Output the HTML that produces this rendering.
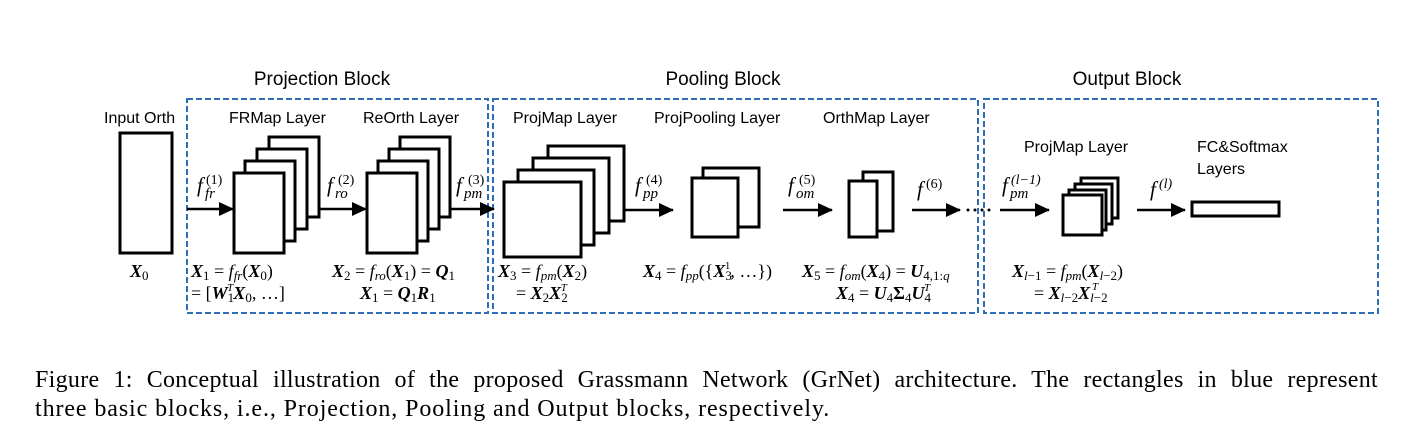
<!DOCTYPE html>
<html><head><meta charset="utf-8"><style>
body{margin:0;background:#fff;width:1413px;height:446px;overflow:hidden}
svg{position:absolute;left:0;top:0}
.s{font-family:"Liberation Sans",sans-serif;font-size:16px;fill:#000}
.h{font-family:"Liberation Sans",sans-serif;font-size:19px;fill:#000}
.m{font-family:"Liberation Serif",serif;font-size:18px;fill:#000}
.b{font-weight:bold;font-style:italic}
.i{font-style:italic}
.cap{position:absolute;left:35px;width:1343px;font-family:"Liberation Serif",serif;font-size:24px;line-height:29px;top:366px;white-space:nowrap}
.l1{text-align:justify;text-align-last:justify;white-space:normal;letter-spacing:0.3px}
.l2{letter-spacing:0.9px}
</style></head><body>
<svg width="1413" height="446" viewBox="0 0 1413 446">
<defs><marker id="a" markerWidth="16" markerHeight="14" refX="14" refY="7" orient="auto" markerUnits="userSpaceOnUse"><path d="M0,0 L15,7 L0,14 z" fill="#000"/></marker></defs>
<g fill="none" stroke="#2e6db5" stroke-width="2" stroke-dasharray="6,3">
<rect x="187" y="99" width="301" height="214"/>
<rect x="493" y="99" width="485" height="214"/>
<rect x="984" y="99" width="394" height="214"/>
</g>
<text class="h" x="322" y="85" text-anchor="middle">Projection Block</text>
<text class="h" x="723" y="85" text-anchor="middle">Pooling Block</text>
<text class="h" x="1127" y="85" text-anchor="middle">Output Block</text>
<g class="s">
<text x="104" y="123">Input Orth</text>
<text x="229" y="123">FRMap Layer</text>
<text x="363" y="123">ReOrth Layer</text>
<text x="513" y="123">ProjMap Layer</text>
<text x="654" y="123">ProjPooling Layer</text>
<text x="823" y="123">OrthMap Layer</text>
<text x="1024" y="152">ProjMap Layer</text>
<text x="1197" y="152">FC&amp;Softmax</text>
<text x="1197" y="174">Layers</text>
</g>
<g fill="#fff" stroke="#000" stroke-width="3">
<rect x="120" y="133" width="52" height="120"/>
<rect x="269" y="137" width="50" height="80"/><rect x="257" y="149" width="50" height="80"/><rect x="245" y="161" width="50" height="80"/><rect x="234" y="173" width="50" height="80"/>
<rect x="400" y="137" width="50" height="80"/><rect x="389" y="149" width="50" height="80"/><rect x="378" y="161" width="50" height="80"/><rect x="367" y="173" width="50" height="80"/>
<rect x="548" y="146" width="76" height="75"/><rect x="533" y="158" width="76" height="75"/><rect x="518" y="170" width="76" height="75"/><rect x="504" y="182" width="77" height="75"/>
<rect x="703" y="168" width="56" height="59"/><rect x="692" y="178" width="46" height="59"/>
<rect x="863" y="172" width="30" height="59"/><rect x="849" y="181" width="28" height="56"/>
<rect x="1081" y="178" width="37" height="40"/><rect x="1075" y="184" width="37" height="40"/><rect x="1069" y="190" width="37" height="40"/><rect x="1063" y="195" width="39" height="40"/>
<rect x="1192" y="202" width="87" height="14"/>
</g>
<g stroke="#000" stroke-width="2.5" marker-end="url(#a)">
<line x1="187" y1="209" x2="233" y2="209"/>
<line x1="318" y1="209" x2="366" y2="209"/>
<line x1="449" y1="209" x2="494" y2="209"/>
<line x1="625" y1="210" x2="673" y2="210"/>
<line x1="783" y1="210" x2="832" y2="210"/>
<line x1="912" y1="210" x2="960" y2="210"/>
<line x1="1000" y1="210" x2="1049" y2="210"/>
<line x1="1137" y1="210" x2="1185" y2="210"/>
</g>
<g fill="#000"><circle cx="968" cy="210" r="1.5"/><circle cx="975" cy="210" r="1.5"/><circle cx="982" cy="210" r="1.5"/><circle cx="989" cy="210" r="1.5"/></g>
<g class="m">
<g font-size="21" font-style="italic">
<text x="197" y="192">f</text><text x="205" y="198" font-size="15">fr</text><text x="206" y="184" font-size="14" font-style="normal">(1)</text>
<text x="327" y="192">f</text><text x="335" y="198" font-size="15">ro</text><text x="338" y="184" font-size="14" font-style="normal">(2)</text>
<text x="456" y="192">f</text><text x="464" y="198" font-size="15">pm</text><text x="468" y="184" font-size="14" font-style="normal">(3)</text>
<text x="635" y="192">f</text><text x="643" y="198" font-size="15">pp</text><text x="646" y="184" font-size="14" font-style="normal">(4)</text>
<text x="788" y="192">f</text><text x="796" y="198" font-size="15">om</text><text x="799" y="184" font-size="14" font-style="normal">(5)</text>
<text x="917" y="196">f</text><text x="926" y="188" font-size="14" font-style="normal">(6)</text>
<text x="1002" y="192">f</text><text x="1010" y="198" font-size="15">pm</text><text x="1011" y="184" font-size="14">(l−1)</text>
<text x="1150" y="196">f</text><text x="1159" y="188" font-size="14">(l)</text>
</g>

<text x="130" y="277"><tspan class="b">X</tspan><tspan font-size="13" dy="3">0</tspan></text>
<text x="191" y="277"><tspan class="b">X</tspan><tspan font-size="13" dy="3">1</tspan><tspan dy="-3"> = </tspan><tspan class="i">f</tspan><tspan class="i" font-size="13" dy="3">fr</tspan><tspan dy="-3">(</tspan><tspan class="b">X</tspan><tspan font-size="13" dy="3">0</tspan><tspan dy="-3">)</tspan></text>
<text x="191" y="299"> = [<tspan class="b">W</tspan><tspan font-size="13" dy="3">1</tspan><tspan class="i" font-size="11" dx="-7" dy="-11">T</tspan><tspan class="b" dy="8">X</tspan><tspan font-size="13" dy="3">0</tspan><tspan dy="-3">, …]</tspan></text>
<text x="332" y="277"><tspan class="b">X</tspan><tspan font-size="13" dy="3">2</tspan><tspan dy="-3"> = </tspan><tspan class="i">f</tspan><tspan class="i" font-size="13" dy="3">ro</tspan><tspan dy="-3">(</tspan><tspan class="b">X</tspan><tspan font-size="13" dy="3">1</tspan><tspan dy="-3">) = </tspan><tspan class="b">Q</tspan><tspan font-size="13" dy="3">1</tspan></text>
<text x="360" y="299"><tspan class="b">X</tspan><tspan font-size="13" dy="3">1</tspan><tspan dy="-3"> = </tspan><tspan class="b">Q</tspan><tspan font-size="13" dy="3">1</tspan><tspan class="b" dy="-3">R</tspan><tspan font-size="13" dy="3">1</tspan></text>
<text x="498" y="277"><tspan class="b">X</tspan><tspan font-size="13" dy="3">3</tspan><tspan dy="-3"> = </tspan><tspan class="i">f</tspan><tspan class="i" font-size="13" dy="3">pm</tspan><tspan dy="-3">(</tspan><tspan class="b">X</tspan><tspan font-size="13" dy="3">2</tspan><tspan dy="-3">)</tspan></text>
<text x="516" y="299"> = <tspan class="b">X</tspan><tspan font-size="13" dy="3">2</tspan><tspan class="b" dy="-3">X</tspan><tspan font-size="13" dy="3">2</tspan><tspan class="i" font-size="11" dx="-7" dy="-11">T</tspan></text>
<text x="643" y="277"><tspan class="b">X</tspan><tspan font-size="13" dy="3">4</tspan><tspan dy="-3"> = </tspan><tspan class="i">f</tspan><tspan class="i" font-size="13" dy="3">pp</tspan><tspan dy="-3">({</tspan><tspan class="b">X</tspan><tspan font-size="13" dy="3">3</tspan><tspan font-size="11" dx="-7" dy="-11">1</tspan><tspan dy="8">, …})</tspan></text>
<text x="802" y="277"><tspan class="b">X</tspan><tspan font-size="13" dy="3">5</tspan><tspan dy="-3"> = </tspan><tspan class="i">f</tspan><tspan class="i" font-size="13" dy="3">om</tspan><tspan dy="-3">(</tspan><tspan class="b">X</tspan><tspan font-size="13" dy="3">4</tspan><tspan dy="-3">) = </tspan><tspan class="b">U</tspan><tspan font-size="13" dy="3">4,1:<tspan class="i">q</tspan></tspan></text>
<text x="836" y="299"><tspan class="b">X</tspan><tspan font-size="13" dy="3">4</tspan><tspan dy="-3"> = </tspan><tspan class="b">U</tspan><tspan font-size="13" dy="3">4</tspan><tspan font-weight="bold" dy="-3">Σ</tspan><tspan font-size="13" dy="3">4</tspan><tspan class="b" dy="-3">U</tspan><tspan font-size="13" dy="3">4</tspan><tspan class="i" font-size="11" dx="-7" dy="-11">T</tspan></text>
<text x="1012" y="277"><tspan class="b">X</tspan><tspan class="i" font-size="13" dy="3">l</tspan><tspan font-size="13">−1</tspan><tspan dy="-3"> = </tspan><tspan class="i">f</tspan><tspan class="i" font-size="13" dy="3">pm</tspan><tspan dy="-3">(</tspan><tspan class="b">X</tspan><tspan class="i" font-size="13" dy="3">l</tspan><tspan font-size="13">−2</tspan><tspan dy="-3">)</tspan></text>
<text x="1034" y="299"> = <tspan class="b">X</tspan><tspan class="i" font-size="13" dy="3">l</tspan><tspan font-size="13">−2</tspan><tspan class="b" dy="-3">X</tspan><tspan class="i" font-size="13" dy="3">l</tspan><tspan font-size="13">−2</tspan></text>
<text x="1092" y="290" class="i" font-size="11">T</text>
</g>
</svg>
<div class="cap"><div class="l1">Figure 1: Conceptual illustration of the proposed Grassmann Network (GrNet) architecture. The rectangles in blue represent</div><div class="l2">three basic blocks, i.e., Projection, Pooling and Output blocks, respectively.</div></div>
</body></html>
